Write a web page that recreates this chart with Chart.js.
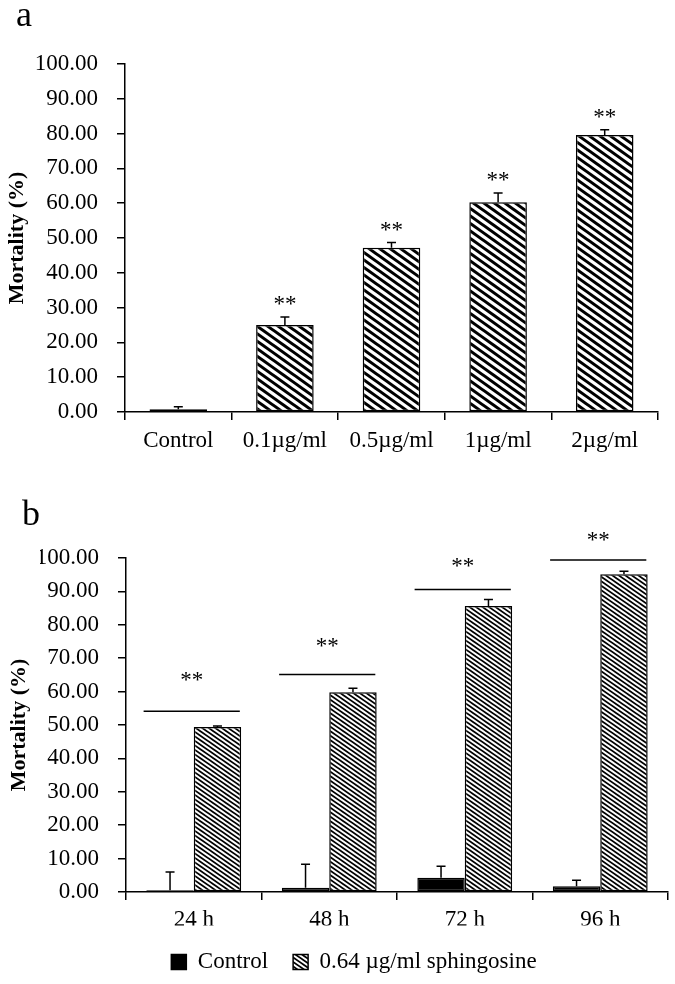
<!DOCTYPE html>
<html>
<head>
<meta charset="utf-8">
<script src="https://cdn.jsdelivr.net/npm/chart.js@4.4.1/dist/chart.umd.min.js"></script>
<style>
  body { margin: 0; background: #fff; width: 675px; height: 984px; position: relative; overflow: hidden; font-family: 'Liberation Serif', serif; }
  canvas { position: absolute; left: 0; }
  .panel { position: absolute; font-size: 36px; line-height: 36px; color: #000; }
</style>
</head>
<body>
<canvas id="chartA" width="675" height="480" style="top:0"></canvas>
<canvas id="chartB" width="675" height="504" style="top:480px"></canvas>
<div class="panel" style="left:16px;top:-4px">a</div>
<div class="panel" style="left:22px;top:495px">b</div>
<script>
// panel a: dose response
const doseLabels = ['Control', '0.1µg/ml', '0.5µg/ml', '1µg/ml', '2µg/ml'];
const doseMortality = [0.8, 25.0, 47.2, 60.3, 79.6];
const doseError = [0.7, 2.3, 1.5, 2.6, 1.5];
const doseStars = ['', '**', '**', '**', '**'];

// panel b: time course
const timeLabels = ['24 h', '48 h', '72 h', '96 h'];
const controlMortality = [0.5, 1.3, 4.3, 1.7];
const controlError = [5.5, 7.0, 3.4, 1.8];
const sphMortality = [49.4, 59.8, 85.6, 95.1];
const sphError = [0.3, 1.2, 2.0, 0.9];
const sigLine = [54.1, 65.1, 90.6, 99.4];
const sigStar = [64.3, 74.5, 98.5, 106.3];

Chart.defaults.font.family = "'Liberation Serif', serif";
Chart.defaults.color = '#000';

function makeHatch(w, h, n, thick) {
  const c = document.createElement('canvas');
  c.width = w; c.height = h;
  const g = c.getContext('2d');
  g.fillStyle = '#fff';
  g.fillRect(0, 0, w, h);
  g.fillStyle = '#000';
  const step = h / n;
  for (let k = -n - 1; k <= n + 1; k++) {
    const y0 = k * step;
    g.beginPath();
    g.moveTo(0, y0 - thick / 2);
    g.lineTo(w, y0 + h - thick / 2);
    g.lineTo(w, y0 + h + thick / 2);
    g.lineTo(0, y0 + thick / 2);
    g.closePath();
    g.fill();
  }
  return g.createPattern(c, 'repeat');
}

const hatchWide = makeHatch(21, 15, 2, 3.7);
const hatchFine = makeHatch(13, 9, 2, 2.2);

const errorBars = {
  id: 'errorBars',
  afterDatasetsDraw(chart) {
    const ctx = chart.ctx;
    const y = chart.scales.y;
    ctx.save();
    ctx.strokeStyle = '#000';
    ctx.lineWidth = 1.5;
    chart.data.datasets.forEach((ds, i) => {
      if (!ds.errors) return;
      chart.getDatasetMeta(i).data.forEach((bar, j) => {
        const top = y.getPixelForValue(ds.data[j] + ds.errors[j]);
        ctx.beginPath();
        ctx.moveTo(bar.x, bar.y);
        ctx.lineTo(bar.x, top);
        ctx.moveTo(bar.x - 4.5, top);
        ctx.lineTo(bar.x + 4.5, top);
        ctx.stroke();
      });
    });
    ctx.restore();
  }
};

const starsA = {
  id: 'starsA',
  afterDatasetsDraw(chart) {
    const ctx = chart.ctx;
    const y = chart.scales.y;
    ctx.save();
    ctx.font = "23px 'Liberation Serif'";
    ctx.fillStyle = '#000';
    ctx.textAlign = 'center';
    ctx.textBaseline = 'alphabetic';
    chart.getDatasetMeta(0).data.forEach((bar, j) => {
      if (!doseStars[j]) return;
      const top = y.getPixelForValue(doseMortality[j] + doseError[j]);
      ctx.fillText(doseStars[j], bar.x, top - 16 + 10);
    });
    ctx.restore();
  }
};

const sigB = {
  id: 'sigB',
  afterDatasetsDraw(chart) {
    const ctx = chart.ctx;
    const x = chart.scales.x;
    const y = chart.scales.y;
    const cw = x.width / timeLabels.length;
    ctx.save();
    ctx.strokeStyle = '#000';
    ctx.lineWidth = 1.5;
    ctx.fillStyle = '#000';
    ctx.font = "23px 'Liberation Serif'";
    ctx.textAlign = 'center';
    ctx.textBaseline = 'alphabetic';
    timeLabels.forEach((t, j) => {
      const cx = x.getPixelForValue(j);
      const ly = y.getPixelForValue(sigLine[j]);
      ctx.beginPath();
      ctx.moveTo(cx - 0.37 * cw, ly);
      ctx.lineTo(cx + 0.34 * cw, ly);
      ctx.stroke();
      ctx.fillText('**', cx - 2, y.getPixelForValue(sigStar[j]) + 10);
    });
    ctx.restore();
  }
};

function axisGrid() {
  return { drawOnChartArea: false, tickLength: 8, color: '#000', lineWidth: 1.5 };
}

new Chart(document.getElementById('chartA'), {
  type: 'bar',
  data: {
    labels: doseLabels,
    datasets: [{
      data: doseMortality,
      errors: doseError,
      backgroundColor: hatchWide,
      borderColor: '#000',
      borderWidth: 1.5,
      borderSkipped: false,
      categoryPercentage: 0.54,
      barPercentage: 1
    }]
  },
  options: {
    responsive: false,
    animation: false,
    devicePixelRatio: 1,
    layout: { padding: { left: 0, right: 17, top: 64, bottom: 0 } },
    plugins: { legend: { display: false }, tooltip: { enabled: false } },
    scales: {
      x: {
        grid: { ...axisGrid(), offset: true },
        border: { color: '#000', width: 1.5 },
        ticks: { font: { size: 23 }, color: '#000', padding: 7, maxRotation: 0, autoSkip: false },
        afterFit: s => { s.height = 68; }
      },
      y: {
        min: 0,
        max: 100,
        grid: axisGrid(),
        border: { color: '#000', width: 1.5 },
        ticks: { stepSize: 10, font: { size: 23 }, color: '#000', padding: 19, callback: v => v.toFixed(2) },
        title: { display: true, text: 'Mortality (%)', color: '#000', font: { size: 22, weight: 'bold' }, padding: { top: 4, bottom: 0 } },
        afterFit: s => { s.width = 125; }
      }
    }
  },
  plugins: [errorBars, starsA]
});

new Chart(document.getElementById('chartB'), {
  type: 'bar',
  data: {
    labels: timeLabels,
    datasets: [{
      label: 'Control',
      data: controlMortality,
      errors: controlError,
      backgroundColor: '#000',
      borderColor: '#000',
      borderWidth: 1.5,
      borderSkipped: false,
      categoryPercentage: 0.7,
      barPercentage: 1
    }, {
      label: '0.64 µg/ml sphingosine',
      data: sphMortality,
      errors: sphError,
      backgroundColor: hatchFine,
      borderColor: '#000',
      borderWidth: 1.5,
      borderSkipped: false,
      categoryPercentage: 0.7,
      barPercentage: 1
    }]
  },
  options: {
    responsive: false,
    animation: false,
    devicePixelRatio: 1,
    layout: { padding: { left: 40, right: 7, top: 78, bottom: 0.5 } },
    plugins: {
      legend: {
        position: 'bottom',
        labels: { boxWidth: 15, boxHeight: 15, padding: 25, color: '#000', font: { size: 23 } }
      },
      tooltip: { enabled: false }
    },
    scales: {
      x: {
        grid: { ...axisGrid(), offset: true },
        border: { color: '#000', width: 1.5 },
        ticks: { font: { size: 23 }, color: '#000', padding: 6, maxRotation: 0, autoSkip: false },
        afterFit: s => { s.height = 33.5; }
      },
      y: {
        min: 0,
        max: 100,
        grid: axisGrid(),
        border: { color: '#000', width: 1.5 },
        ticks: { stepSize: 10, font: { size: 23 }, color: '#000', padding: 19, callback: v => v.toFixed(2) },
        title: { display: true, text: 'Mortality (%)', color: '#000', font: { size: 22, weight: 'bold' }, padding: { top: -34, bottom: 0 } },
        afterFit: s => { s.width = 86; }
      }
    }
  },
  plugins: [errorBars, sigB]
});
</script>
</body>
</html>
